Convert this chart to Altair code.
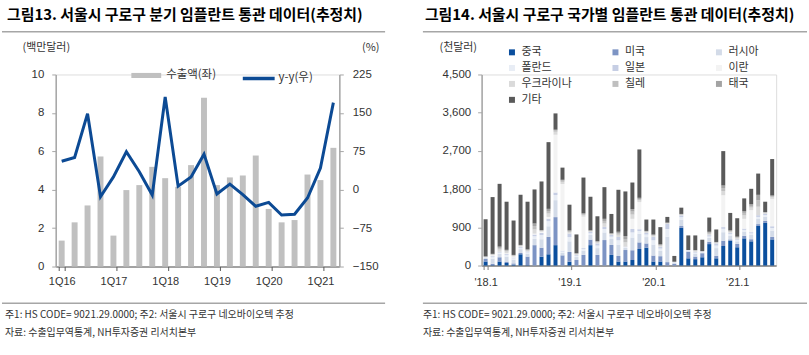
import altair as alt
import pandas as pd

# ---------------- data: left panel (quarterly) ----------------
quarters = ["1Q16", "2Q16", "3Q16", "4Q16", "1Q17", "2Q17", "3Q17", "4Q17",
            "1Q18", "2Q18", "3Q18", "4Q18", "1Q19", "2Q19", "3Q19", "4Q19",
            "1Q20", "2Q20", "3Q20", "4Q20", "1Q21", "2Q21"]
export_musd = [1.35, 2.3, 3.18, 5.73, 1.61, 3.98, 4.24, 5.19, 4.6, 4.15, 5.28,
               8.79, 4.24, 4.64, 4.74, 5.78, 3.0, 2.3, 2.42, 4.79, 4.5, 6.18]
yoy_pct = [55.6, 62.8, 148.5, -13.8, 25, 74, 35, -10.5, 180.9, 7, 25, 69.4,
           -8.4, 11, -9.7, -32.4, -24.7, -49.3, -48, -16.2, 42.2, 170]
left_ticks = [0, 2, 4, 6, 8, 10]
right_ticks = [-150, -75, 0, 75, 150, 225]
q_labels = ["1Q16", "1Q17", "1Q18", "1Q19", "1Q20", "1Q21"]

# ---------------- data: right panel (monthly, by country) ----------------
months = ["'18.1", "'18.2", "'18.3", "'18.4", "'18.5", "'18.6", "'18.7", "'18.8", "'18.9", "'18.10", "'18.11", "'18.12",
          "'19.1", "'19.2", "'19.3", "'19.4", "'19.5", "'19.6", "'19.7", "'19.8", "'19.9", "'19.10", "'19.11", "'19.12",
          "'20.1", "'20.2", "'20.3", "'20.4", "'20.5", "'20.6", "'20.7", "'20.8", "'20.9", "'20.10", "'20.11", "'20.12",
          "'21.1", "'21.2", "'21.3", "'21.4", "'21.5", "'21.6"]
m_labels = ["'18.1", "'19.1", "'20.1", "'21.1"]
series_names = ["중국", "미국", "러시아", "폴란드", "일본", "이란", "우크라이나", "칠레", "태국", "기타"]
china = [95, 10, 95, 60, 20, 265, 10, 0, 210, 265, 480, 0, 90, 0, 0, 480, 0, 0, 250, 95, 95,
         130, 390, 420, 95, 95, 0, 0, 890, 170, 150, 195, 505, 170, 460, 585, 430, 640, 570, 935, 1005, 615]
usa = [60, 30, 100, 30, 30, 30, 200, 480, 210, 410, 660, 240, 230, 130, 250, 130, 250, 600, 235, 130, 270,
       230, 155, 100, 140, 125, 80, 40, 40, 155, 60, 95, 55, 60, 125, 30, 80, 60, 50, 40, 45, 60]
russia = [25, 120, 80, 120, 90, 90, 70, 150, 200, 250, 400, 60, 250, 70, 100, 110, 160, 180, 140, 270, 50,
          300, 200, 150, 260, 130, 600, 25, 150, 20, 70, 20, 90, 180, 200, 90, 60, 100, 100, 120, 100, 150]
poland = [10, 40, 30, 40, 30, 30, 30, 60, 100, 120, 120, 30, 100, 30, 40, 40, 60, 80, 55, 100, 20,
          120, 70, 60, 100, 50, 180, 10, 60, 10, 25, 10, 35, 60, 80, 40, 30, 40, 40, 50, 40, 60]
japan = [5, 20, 20, 20, 20, 20, 20, 40, 50, 60, 60, 20, 80, 20, 20, 30, 50, 50, 40, 80, 10,
         80, 40, 40, 80, 40, 120, 5, 40, 10, 20, 10, 30, 50, 40, 25, 20, 30, 25, 40, 30, 40]
iran = [0, 20, 0, 20, 20, 10, 0, 20, 25, 40, 1360, 1570, 0, 0, 740, 0, 0, 0, 0, 0, 0,
        240, 640, 0, 0, 0, 0, 0, 0, 0, 0, 0, 0, 0, 750, 0, 0, 230, 520, 0, 0, 645]
ukraine = [10, 15, 50, 40, 15, 20, 20, 100, 20, 80, 70, 50, 40, 20, 40, 20, 25, 80, 20, 50, 100,
           100, 40, 20, 25, 25, 15, 5, 15, 0, 20, 5, 30, 15, 100, 25, 25, 80, 60, 200, 20, 40]
chile = [5, 10, 40, 20, 15, 10, 20, 80, 10, 60, 30, 30, 20, 10, 20, 10, 15, 60, 10, 40, 80,
         70, 30, 15, 15, 20, 10, 5, 10, 0, 10, 5, 25, 10, 70, 20, 20, 60, 40, 150, 10, 25]
thailand = [5, 10, 30, 20, 10, 10, 10, 60, 10, 50, 20, 20, 20, 10, 20, 10, 15, 50, 10, 30, 70,
            60, 30, 10, 15, 15, 5, 0, 10, 0, 10, 0, 25, 10, 60, 15, 15, 40, 40, 130, 10, 15]
others = [875, 1337, 1479, 1133, 810, 1182, 1123, 802, 1145, 1571, 383, 286, 603, 442, 842, 790, 585, 746, 455, 989, 1050,
          625, 1139, 268, 353, 404, 135, 136, 148, 344, 344, 268, 335, 294, 810, 409, 434, 301, 362, 501, 243, 858]
series_values = [china, usa, russia, poland, japan, iran, ukraine, chile, thailand, others]
series_colors = ["#0b4f9e", "#7d94c4", "#d3dbe8", "#e8edf5", "#c6cee4",
                 "#f3f3f3", "#dadada", "#bfbfbf", "#a3a3a3", "#5a5a5a"]
y2_ticks = [0, 900, 1800, 2700, 3600, 4500]

title_left = "그림13. 서울시 구로구 분기 임플란트 통관 데이터(추정치)"
title_right = "그림14. 서울시 구로구 국가별 임플란트 통관 데이터(추정치)"
footer_lines = ["주1: HS CODE= 9021.29.0000; 주2: 서울시 구로구 네오바이오텍 추정",
                "자료: 수출입무역통계, NH투자증권 리서치본부"]

KFONT = "Noto Sans CJK KR"
NFONT = "Liberation Sans, Arial, sans-serif"
FFONT = "Liberation Sans Narrow, Noto Sans CJK KR, sans-serif"
TXT = "#333333"

one = pd.DataFrame({"k": [0]})

# ---------------- left panel ----------------
W1, H1 = 285, 193
df1 = pd.DataFrame({"q": quarters, "exp": export_musd, "yoy": yoy_pct,
                    "l1": "수출액(좌)", "l2": "y-y(우)"})

xq = alt.X("q:N", sort=quarters, title=None,
           scale=alt.Scale(paddingInner=0.54, paddingOuter=0.23),
           axis=alt.Axis(values=q_labels, labelAngle=0, tickBand="extent",
                         domainColor="#595959", domainWidth=1.2, tickColor="#595959",
                         tickSize=4, labelPadding=5, labelFont=NFONT, labelFontSize=11,
                         labelColor=TXT))

bars = alt.Chart(df1).mark_bar().encode(
    x=xq,
    y=alt.Y("exp:Q", scale=alt.Scale(domain=[0, 10]),
            axis=alt.Axis(values=left_ticks, title="(백만달러)", titleAngle=0,
                          titleAlign="center", titleBaseline="middle", titleX=-10, titleY=-27,
                          titleFont=KFONT, titleFontSize=11, titleFontWeight="normal",
                          titleColor=TXT, labelFont=NFONT, labelFontSize=11.5, labelColor=TXT,
                          domainColor="#a6a6a6", domainWidth=1.5, tickColor="#a6a6a6",
                          tickSize=4, labelPadding=8, grid=False)),
    fill=alt.Fill("l1:N", scale=alt.Scale(range=["#c0c0c0"]),
                  legend=alt.Legend(title=None, orient="none", legendX=76, legendY=-14,
                                    symbolType="M-1,-0.17L1,-0.17L1,0.17L-1,0.17Z",
                                    symbolSize=900, symbolStrokeWidth=0, labelOffset=5,
                                    labelFont=KFONT, labelFontSize=11.5, labelColor=TXT)),
)

line = alt.Chart(df1).mark_line(strokeWidth=3).encode(
    x=xq,
    y=alt.Y("yoy:Q", scale=alt.Scale(domain=[-150, 225]),
            axis=alt.Axis(orient="right", values=right_ticks, title="(%)", titleAngle=0,
                          titleAlign="center", titleBaseline="middle", titleX=31, titleY=-27,
                          titleFont=KFONT, titleFontSize=11, titleFontWeight="normal",
                          titleColor=TXT, labelFont=NFONT, labelFontSize=11.5, labelColor=TXT,
                          domainColor="#a6a6a6", domainWidth=1.5, tickColor="#a6a6a6",
                          tickSize=4, labelPadding=9, grid=False)),
    stroke=alt.Stroke("l2:N", scale=alt.Scale(range=["#0c4a94"]),
                      legend=alt.Legend(title=None, orient="none", legendX=186, legendY=-14,
                                        symbolType="stroke", symbolSize=1024,
                                        symbolStrokeWidth=3.5, labelOffset=2,
                                        labelFont=KFONT, labelFontSize=11.5, labelColor=TXT)),
)


def decorations(x0, x_end):
    """Invisible layout anchor plus separator rules placed around a panel."""
    anchor = alt.Chart(one).mark_rule(strokeOpacity=0, strokeWidth=1).encode(
        x=alt.value(-x0), x2=alt.value(-x0 + 1), y=alt.value(-73.5))
    top_rule = alt.Chart(one).mark_rule(color="#a6a6a6", strokeWidth=1.5).encode(
        x=alt.value(x_end[0]), x2=alt.value(x_end[1]), y=alt.value(-43))
    bot_rule = alt.Chart(one).mark_rule(color="#a6a6a6", strokeWidth=1.5).encode(
        x=alt.value(x_end[0]), x2=alt.value(x_end[1]), y=alt.value(230))
    return anchor, top_rule, bot_rule


def title_text(txt, x):
    return alt.Chart(one).mark_text(text=txt, align="left", baseline="alphabetic",
                                    font=KFONT, fontSize=15, fontWeight="bold",
                                    color="#000000").encode(x=alt.value(x), y=alt.value(-55))


def footer_text(x):
    return alt.Chart(one).mark_text(text=footer_lines, align="left", baseline="alphabetic",
                                    lineHeight=18, font=FFONT, fontSize=10,
                                    color=TXT).encode(x=alt.value(x), y=alt.value(245))


a1, r1, b1 = decorations(54, (-54, 331))
left = alt.layer(bars, line, a1, r1, b1, title_text(title_left, -49), footer_text(-51)
                 ).resolve_scale(y="independent").properties(width=W1, height=H1)

# ---------------- right panel ----------------
W2, H2 = 296, 192
rows = []
for j, s in enumerate(series_names):
    for i, m in enumerate(months):
        rows.append({"m": m, "s": s, "o": j, "v": series_values[j][i]})
df2 = pd.DataFrame(rows)

stack = alt.Chart(df2).mark_bar().encode(
    x=alt.X("m:N", sort=months, title=None,
            scale=alt.Scale(paddingInner=0.43, paddingOuter=0.285),
            axis=alt.Axis(values=m_labels, labelAngle=0, tickBand="extent",
                          domainColor="#7f7f7f", domainWidth=1.5, tickColor="#7f7f7f",
                          tickSize=4, labelPadding=7, labelFont=NFONT, labelFontSize=11,
                          labelColor=TXT)),
    y=alt.Y("v:Q", stack="zero", scale=alt.Scale(domain=[0, 4500]),
            axis=alt.Axis(values=y2_ticks, format=",.0f", title="(천달러)", titleAngle=0,
                          titleAlign="center", titleBaseline="middle", titleX=-24, titleY=-27,
                          titleFont=KFONT, titleFontSize=11, titleFontWeight="normal",
                          titleColor=TXT, labelFont=NFONT, labelFontSize=11.5, labelColor=TXT,
                          domainColor="#a6a6a6", domainWidth=1.5, tickColor="#a6a6a6",
                          tickSize=4, labelPadding=7, grid=False)),
    color=alt.Color("s:N", sort=series_names,
                    scale=alt.Scale(domain=series_names, range=series_colors),
                    legend=alt.Legend(title=None, orient="none", legendX=25, legendY=-28,
                                      direction="horizontal", columns=3, gridAlign="all",
                                      symbolType="square", symbolSize=36,
                                      symbolStrokeWidth=0, labelOffset=4, columnPadding=38,
                                      rowPadding=4, labelFont=KFONT, labelFontSize=11,
                                      labelColor=TXT)),
    order=alt.Order("o:Q", sort="ascending"),
)

a2, r2, b2 = decorations(482, (-59, 327))
right = alt.layer(stack, r2, b2, title_text(title_right, -57), footer_text(-59)
                  ).properties(width=W2, height=H2)

chart = alt.hconcat(left, right, spacing=143, bounds="flush").resolve_scale(
    color="independent", fill="independent", stroke="independent"
).resolve_legend(
    color="independent", fill="independent", stroke="independent"
).properties(
    padding={"left": 0, "top": 0, "right": 0, "bottom": 0}
).configure_view(stroke=None).configure(background="white")

chart.save("out.html", embed_options={"renderer": "svg", "actions": False})
